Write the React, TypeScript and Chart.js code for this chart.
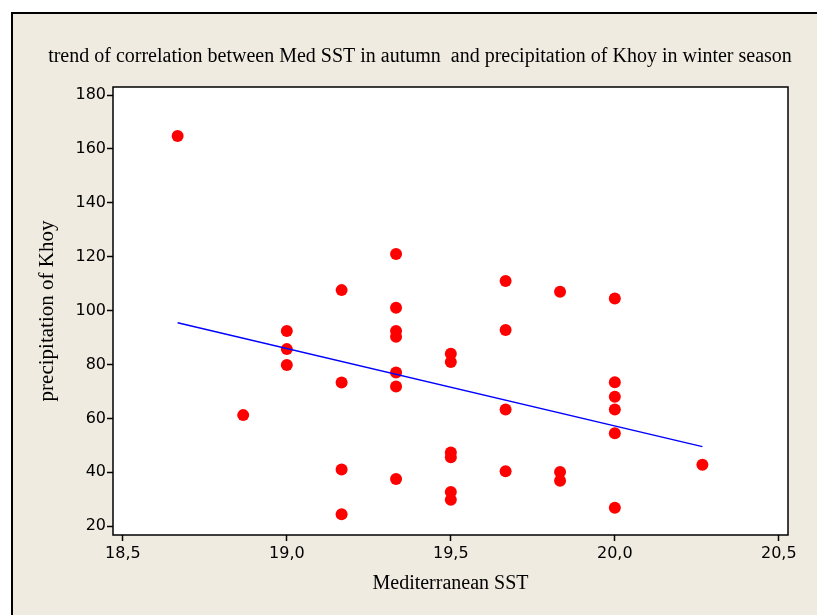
import React, { useEffect, useRef } from "react";
import { Chart, registerables } from "chart.js";

Chart.register(...registerables);

const titleText =
  "trend of correlation between Med SST in autumn  and precipitation of Khoy in winter season";
const xAxisTitle = "Mediterranean SST";
const yAxisTitle = "precipitation of Khoy";

// Mediterranean SST (x) and precipitation of Khoy (y), paired
const sstValues = [
  18.667, 18.867,
  19.0, 19.0, 19.0,
  19.167, 19.167, 19.167, 19.167,
  19.333, 19.333, 19.333, 19.333, 19.333, 19.333, 19.333,
  19.5, 19.5, 19.5, 19.5, 19.5, 19.5,
  19.667, 19.667, 19.667, 19.667,
  19.833, 19.833, 19.833,
  20.0, 20.0, 20.0, 20.0, 20.0, 20.0,
  20.267,
];
const precipValues = [
  164.8, 61.2,
  92.4, 85.7, 79.8,
  107.6, 73.3, 41.0, 24.4,
  121.0, 101.1, 92.4, 90.3, 77.0, 71.8, 37.5,
  84.0, 80.9, 47.3, 45.6, 32.7, 29.8,
  111.0, 92.8, 63.3, 40.4,
  107.0, 40.1, 36.8,
  104.5, 73.4, 68.0, 63.3, 54.5, 26.8,
  42.8,
];

// fitted trend line end points
const trendX = [18.667, 20.267];
const trendY = [95.5, 49.5];

const xTicks = [18.5, 19.0, 19.5, 20.0, 20.5];
const yTicks = [20, 40, 60, 80, 100, 120, 140, 160, 180];
const xRange = [18.47, 20.528];
const yRange = [16.7, 183];

const BEIGE = "#efebe1";
const SERIF = "'Liberation Serif', 'Times New Roman', serif";
const SANS = "'DejaVu Sans', Verdana, sans-serif";

const panelPlugin = {
  id: "panel",
  beforeDraw(chart: any) {
    const { ctx, width, height, chartArea } = chart;
    ctx.save();
    ctx.fillStyle = "#ffffff";
    ctx.fillRect(0, 0, width, height);
    ctx.fillStyle = BEIGE;
    ctx.fillRect(12, 13, width, height);
    ctx.strokeStyle = "#000000";
    ctx.lineWidth = 2;
    ctx.beginPath();
    ctx.moveTo(12, height + 5);
    ctx.lineTo(12, 13);
    ctx.lineTo(width + 5, 13);
    ctx.stroke();
    ctx.fillStyle = "#ffffff";
    ctx.fillRect(
      chartArea.left,
      chartArea.top,
      chartArea.right - chartArea.left,
      chartArea.bottom - chartArea.top
    );
    // chart title
    ctx.fillStyle = "#000000";
    ctx.font = `20px ${SERIF}`;
    ctx.textAlign = "center";
    ctx.textBaseline = "middle";
    ctx.fillText(titleText, 420, 57);
    ctx.restore();
  },
  beforeDatasetsDraw(chart: any) {
    const { ctx, chartArea } = chart;
    ctx.save();
    ctx.strokeStyle = "#000000";
    ctx.lineWidth = 1.5;
    ctx.strokeRect(
      chartArea.left,
      chartArea.top,
      chartArea.right - chartArea.left,
      chartArea.bottom - chartArea.top
    );
    ctx.restore();
  },
};

export default function App() {
  const ref = useRef<HTMLCanvasElement | null>(null);

  useEffect(() => {
    if (!ref.current) return;
    const points = sstValues.map((x, i) => ({ x, y: precipValues[i] }));
    const trend = trendX.map((x, i) => ({ x, y: trendY[i] }));

    const chart = new Chart(ref.current, {
      type: "scatter",
      data: {
        datasets: [
          {
            type: "line",
            data: trend,
            borderColor: "#0000ff",
            borderWidth: 1.5,
            pointRadius: 0,
            fill: false,
          } as any,
          {
            data: points,
            backgroundColor: "#ff0000",
            borderColor: "#ff0000",
            pointRadius: 6,
            pointBorderWidth: 0,
          },
        ],
      },
      options: {
        animation: false,
        responsive: false,
        events: [],
        layout: { padding: { left: 0, top: 87, right: 29, bottom: 0 } },
        plugins: {
          legend: { display: false },
          tooltip: { enabled: false },
          title: { display: false },
        },
        scales: {
          x: {
            type: "linear",
            min: xRange[0],
            max: xRange[1],
            afterBuildTicks: (scale: any) => {
              scale.ticks = xTicks.map((v) => ({ value: v }));
            },
            afterFit: (scale: any) => {
              scale.height = 80;
            },
            border: { display: false },
            grid: {
              drawOnChartArea: false,
              drawTicks: true,
              tickLength: 6,
              tickWidth: 1.5,
              tickColor: "#000000",
            },
            ticks: {
              color: "#000000",
              font: { family: SANS, size: 16 },
              padding: 3,
              maxRotation: 0,
              callback: (v: any) => Number(v).toFixed(1).replace(".", ","),
            },
            title: {
              display: true,
              text: xAxisTitle,
              color: "#000000",
              font: { family: SERIF, size: 20, lineHeight: 1.2 },
              padding: { top: 0, bottom: 19 },
            },
          },
          y: {
            type: "linear",
            min: yRange[0],
            max: yRange[1],
            afterBuildTicks: (scale: any) => {
              scale.ticks = yTicks.map((v) => ({ value: v }));
            },
            afterFit: (scale: any) => {
              scale.width = 113;
            },
            border: { display: false },
            grid: {
              drawOnChartArea: false,
              drawTicks: true,
              tickLength: 6,
              tickWidth: 1.5,
              tickColor: "#000000",
            },
            ticks: {
              color: "#000000",
              font: { family: SANS, size: 16 },
              padding: 1,
              callback: (v: any) => String(v),
            },
            title: {
              display: true,
              text: yAxisTitle,
              color: "#000000",
              font: { family: SERIF, size: 21, lineHeight: 1.2 },
              padding: { top: 35, bottom: 0 },
            },
          },
        },
      },
      plugins: [panelPlugin],
    });
    return () => chart.destroy();
  }, []);

  return (
    <div style={{ position: "absolute", left: 0, top: 0, width: 817, height: 615 }}>
      <canvas ref={ref} width={817} height={615} style={{ display: "block" }} />
    </div>
  );
}
